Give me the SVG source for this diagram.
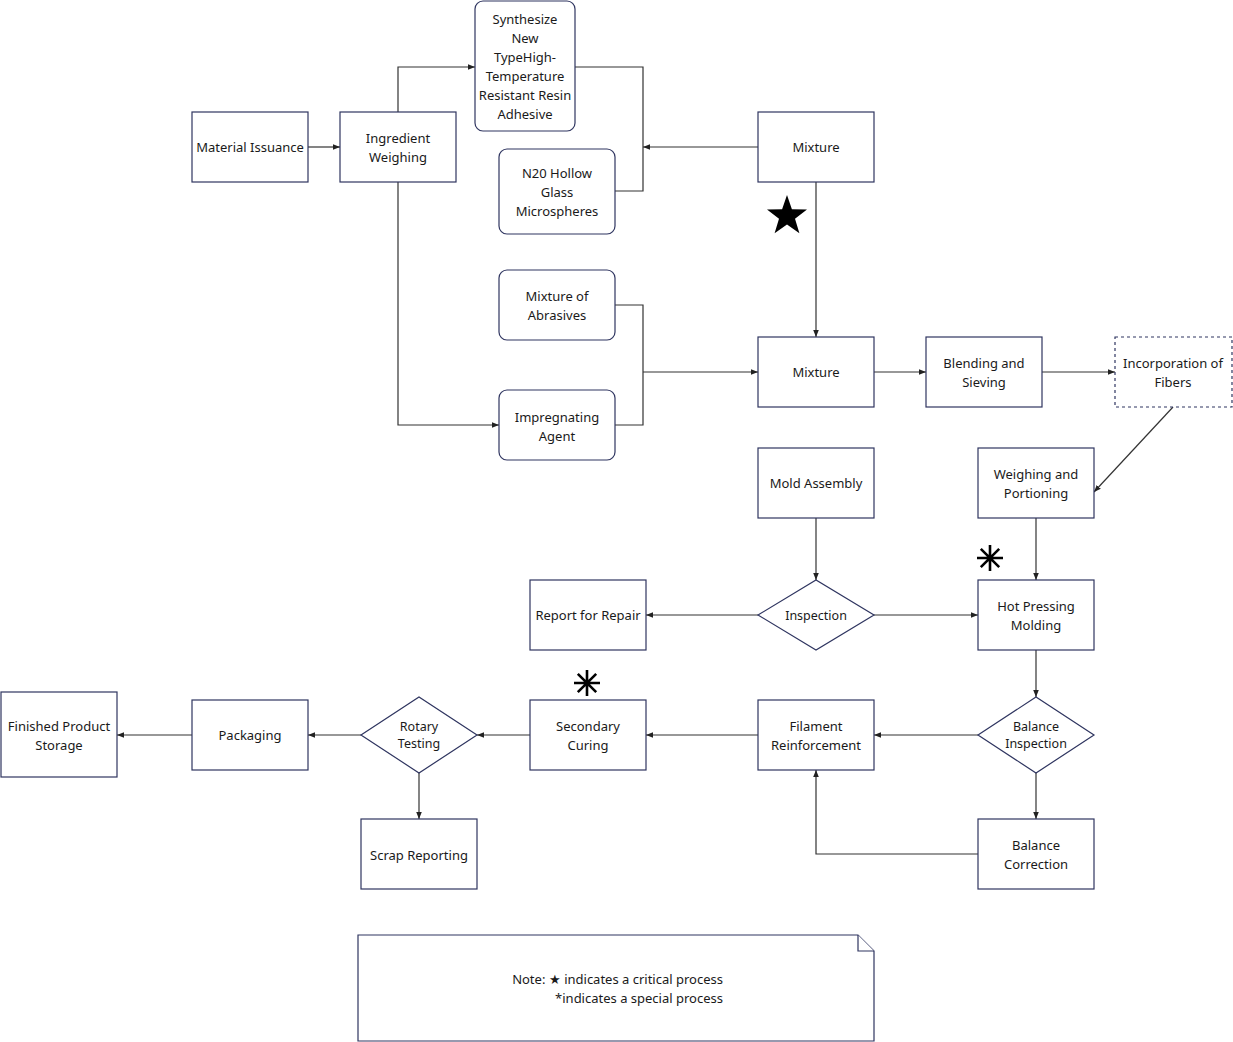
<svg xmlns="http://www.w3.org/2000/svg" width="1233" height="1042" viewBox="0 0 1233 1042">
<style>
.n{fill:#fff;stroke:#2f3560;stroke-width:1.2}
.d{fill:#fff;stroke:#2f3560;stroke-width:1.2;stroke-dasharray:3 3}
.t{font-family:"Noto Sans","Open Sans",sans-serif;font-size:13px;fill:#1a1a1a;text-anchor:middle}
.c{fill:none;stroke:#333;stroke-width:1.2}
.a{marker-end:url(#ar)}
.ast{stroke:#000;stroke-width:2.6;fill:none}
</style>
<defs>
<marker id="ar" viewBox="0 0 10 10" refX="10" refY="5" markerWidth="7" markerHeight="7" markerUnits="userSpaceOnUse" orient="auto">
<path d="M0,1 L10,5 L0,9 Z" fill="#222"/>
</marker>
</defs>
<rect width="1233" height="1042" fill="#fff"/>
<g id="connectors">
<path class="c a" d="M308,147 H340"/>
<path class="c a" d="M398,112 V67 H475"/>
<path class="c a" d="M398,182 V425 H499"/>
<path class="c" d="M575,67 H643 V191 H615"/>
<path class="c a" d="M758,147 H643"/>
<path class="c a" d="M816,182 V337"/>
<path class="c" d="M615,305 H643 V425 H615"/>
<path class="c a" d="M643,372 H758"/>
<path class="c a" d="M874,372 H926"/>
<path class="c a" d="M1042,372 H1115"/>
<path class="c a" d="M1173,407 L1094,492"/>
<path class="c a" d="M1036,518 V580"/>
<path class="c a" d="M816,518 V580"/>
<path class="c a" d="M758,615 H646"/>
<path class="c a" d="M874,615 H978"/>
<path class="c a" d="M1036,650 V697"/>
<path class="c a" d="M978,735 H874"/>
<path class="c a" d="M1036,773 V819"/>
<path class="c a" d="M978,854 H816 V770"/>
<path class="c a" d="M758,735 H646"/>
<path class="c a" d="M530,735 H477"/>
<path class="c a" d="M361,735 H308"/>
<path class="c a" d="M192,735 H117"/>
<path class="c a" d="M419,773 V819"/>
</g>
<g id="material-issuance"><rect class="n" x="192" y="112" width="116" height="70"/><text class="t" x="250" y="152">Material Issuance</text></g>
<g id="ingredient-weighing"><rect class="n" x="340" y="112" width="116" height="70"/><text class="t" x="398" y="143">Ingredient</text><text class="t" x="398" y="162">Weighing</text></g>
<g id="synthesize"><rect class="n" x="475" y="1" width="100" height="130" rx="8"/><text class="t" x="525" y="24">Synthesize</text><text class="t" x="525" y="43">New</text><text class="t" x="525" y="62">TypeHigh-</text><text class="t" x="525" y="81">Temperature</text><text class="t" x="525" y="100">Resistant Resin</text><text class="t" x="525" y="119">Adhesive</text></g>
<g id="n20"><rect class="n" x="499" y="149" width="116" height="85" rx="8"/><text class="t" x="557" y="178">N20 Hollow</text><text class="t" x="557" y="197">Glass</text><text class="t" x="557" y="216">Microspheres</text></g>
<g id="mixture-top"><rect class="n" x="758" y="112" width="116" height="70"/><text class="t" x="816" y="152">Mixture</text></g>
<g id="mixture-abrasives"><rect class="n" x="499" y="270" width="116" height="70" rx="8"/><text class="t" x="557" y="301">Mixture of</text><text class="t" x="557" y="320">Abrasives</text></g>
<g id="impregnating-agent"><rect class="n" x="499" y="390" width="116" height="70" rx="8"/><text class="t" x="557" y="422">Impregnating</text><text class="t" x="557" y="441">Agent</text></g>
<g id="mixture-mid"><rect class="n" x="758" y="337" width="116" height="70"/><text class="t" x="816" y="377">Mixture</text></g>
<g id="blending"><rect class="n" x="926" y="337" width="116" height="70"/><text class="t" x="984" y="368">Blending and</text><text class="t" x="984" y="387">Sieving</text></g>
<g id="fibers"><rect class="d" x="1115" y="337" width="117" height="70"/><text class="t" x="1173" y="368">Incorporation of</text><text class="t" x="1173" y="387">Fibers</text></g>
<g id="mold-assembly"><rect class="n" x="758" y="448" width="116" height="70"/><text class="t" x="816" y="488">Mold Assembly</text></g>
<g id="weighing-portioning"><rect class="n" x="978" y="448" width="116" height="70"/><text class="t" x="1036" y="479">Weighing and</text><text class="t" x="1036" y="498">Portioning</text></g>
<g id="report-repair"><rect class="n" x="530" y="580" width="116" height="70"/><text class="t" x="588" y="620">Report for Repair</text></g>
<g id="inspection"><polygon class="n" points="758,615 816,580 874,615 816,650"/><text class="t" x="816" y="620" style="font-size:12.5px">Inspection</text></g>
<g id="hot-pressing"><rect class="n" x="978" y="580" width="116" height="70"/><text class="t" x="1036" y="611">Hot Pressing</text><text class="t" x="1036" y="630">Molding</text></g>
<g id="balance-inspection"><polygon class="n" points="978,735 1036,697 1094,735 1036,773"/><text class="t" x="1036" y="731" style="font-size:12.5px">Balance</text><text class="t" x="1036" y="748" style="font-size:12.5px">Inspection</text></g>
<g id="filament"><rect class="n" x="758" y="700" width="116" height="70"/><text class="t" x="816" y="731">Filament</text><text class="t" x="816" y="750">Reinforcement</text></g>
<g id="secondary-curing"><rect class="n" x="530" y="700" width="116" height="70"/><text class="t" x="588" y="731">Secondary</text><text class="t" x="588" y="750">Curing</text></g>
<g id="rotary-testing"><polygon class="n" points="361,735 419,697 477,735 419,773"/><text class="t" x="419" y="731" style="font-size:12.5px">Rotary</text><text class="t" x="419" y="748" style="font-size:12.5px">Testing</text></g>
<g id="packaging"><rect class="n" x="192" y="700" width="116" height="70"/><text class="t" x="250" y="740">Packaging</text></g>
<g id="finished-storage"><rect class="n" x="1" y="692" width="116" height="85"/><text class="t" x="59" y="731">Finished Product</text><text class="t" x="59" y="750">Storage</text></g>
<g id="scrap-reporting"><rect class="n" x="361" y="819" width="116" height="70"/><text class="t" x="419" y="860">Scrap Reporting</text></g>
<g id="balance-correction"><rect class="n" x="978" y="819" width="116" height="70"/><text class="t" x="1036" y="850">Balance</text><text class="t" x="1036" y="869">Correction</text></g>
<g id="critical-star"><polygon fill="#000" points="787,195 791.9,209.3 807,209.5 795,218.7 799.4,233.3 787,224.6 774.6,233.3 779,218.7 767,209.5 782.1,209.3"/></g>
<g id="special-mark-1" class="ast"><path d="M990,545 V571 M977,558 H1003 M980.8,548.8 L999.2,567.2 M999.2,548.8 L980.8,567.2"/></g>
<g id="special-mark-2" class="ast"><path d="M587,670 V696 M574,683 H600 M577.8,673.8 L596.2,692.2 M596.2,673.8 L577.8,692.2"/></g>
<g id="note"><path class="n" d="M358,935 H858 L874,951 V1041 H358 Z"/><path class="n" d="M858,935 V951 H874" fill="none"/><text class="t" x="723" y="984" style="text-anchor:end">Note: ★ indicates a critical process</text><text class="t" x="723" y="1003" style="text-anchor:end">*indicates a special process</text></g>
</svg>
